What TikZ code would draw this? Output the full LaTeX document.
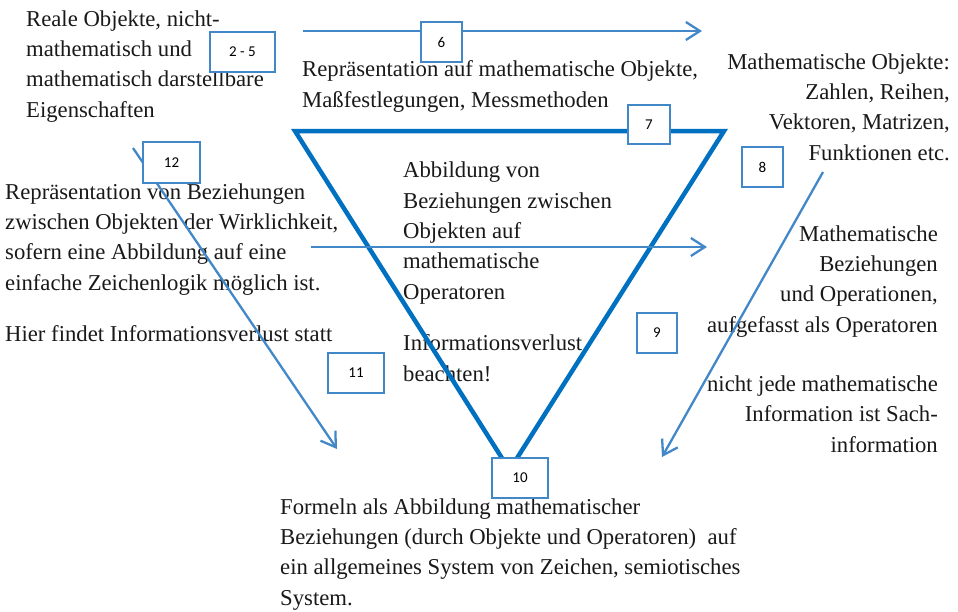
\documentclass[tikz,border=0pt]{standalone}
\usepackage{fontspec}
\setmainfont{Liberation Serif}
\newfontfamily\boxfont{Carlito}
\usetikzlibrary{arrows.meta}
\definecolor{triblue}{RGB}{0,112,192}
\definecolor{thinblue}{RGB}{66,136,200}
\definecolor{ink}{RGB}{25,25,25}
\begin{document}
\begin{tikzpicture}[x=1pt,y=-1pt,
  txt/.style={inner sep=0pt, text=ink, font=\fontsize{22.7}{30.3}\selectfont},
  lft/.style={txt, align=left, anchor=base west},
  rgt/.style={txt, align=right, anchor=base east},
  numbox/.style={draw=thinblue, line width=1.8pt, fill=white, inner sep=0pt,
    font=\boxfont\fontsize{15}{18}\selectfont, text=black},
  triline/.style={draw=triblue, line width=4.5pt, line join=miter},
  conn/.style={draw=thinblue, line width=2.3pt, -{Straight Barb[length=14pt,width=18pt]}}
]
\useasboundingbox (0,0) rectangle (958,611);

% texts (anchor = baseline of the last line)
\node[lft] (reale) at (26,117) {Reale Objekte, nicht-\\mathematisch und\\mathematisch darstellbare\\Eigenschaften};
\node[lft] (repr) at (302,107) {Repräsentation auf mathematische Objekte,\\Maßfestlegungen, Messmethoden};
\node[rgt] (mobj) at (950,160) {Mathematische Objekte:\\Zahlen, Reihen,\\Vektoren, Matrizen,\\Funktionen etc.};
\node[lft] (bez) at (5,290) {Repräsentation von Beziehungen\\zwischen Objekten der Wirklichkeit,\\sofern eine Abbildung auf eine\\einfache Zeichenlogik möglich ist.};
\node[lft] (hier) at (5,341) {Hier findet Informationsverlust statt};
\node[lft] (abb) at (403,299) {Abbildung von\\Beziehungen zwischen\\Objekten auf\\mathematische\\Operatoren};
\node[lft] (info) at (403,381) {Informationsverlust\\beachten!};
\node[rgt] (mbez) at (938,332) {Mathematische\\Beziehungen\\und Operationen,\\aufgefasst als Operatoren};
\node[rgt] (nicht) at (938,452) {nicht jede mathematische\\Information ist Sach-\\information};
\node[lft] (formeln) at (280,605) {Formeln als Abbildung mathematischer\\Beziehungen (durch Objekte und Operatoren)~~auf\\ein allgemeines System von Zeichen, semiotisches\\System.};

% triangle
\coordinate (tl) at (295,131);
\coordinate (tr) at (724,131);
\coordinate (tb) at (509.5,470);
\draw[triline] (tl) -- (tr) -- (tb) -- cycle;

% arrows
\coordinate (a6s) at (303,31);
\coordinate (a6e) at (702,31);
\draw[conn] (a6s) -- (a6e);
\coordinate (ams) at (311,247);
\coordinate (ame) at (707,247);
\draw[conn] (ams) -- (ame);
\coordinate (a12s) at (133,148);
\coordinate (a12e) at (337,449);
\draw[conn] (a12s) -- (a12e);
\coordinate (a8s) at (823,172);
\coordinate (a8e) at (662,457);
\draw[conn] (a8s) -- (a8e);

% number boxes
\node[numbox, minimum width=65pt, minimum height=40pt] (b25) at (242.5,52) {2 - 5};
\node[numbox, minimum width=41pt, minimum height=40pt] (b6) at (441.5,42) {6};
\node[numbox, minimum width=42pt, minimum height=39pt] (b7) at (649,124.5) {7};
\node[numbox, minimum width=41pt, minimum height=40pt] (b8) at (762.5,167) {8};
\node[numbox, minimum width=57pt, minimum height=41pt] (b12) at (171.5,162.5) {12};
\node[numbox, minimum width=40pt, minimum height=40pt] (b9) at (657,333) {9};
\node[numbox, minimum width=56pt, minimum height=40pt] (b11) at (356,373) {11};
\node[numbox, minimum width=56pt, minimum height=40pt] (b10) at (520,478) {10};
\end{tikzpicture}
\end{document}
